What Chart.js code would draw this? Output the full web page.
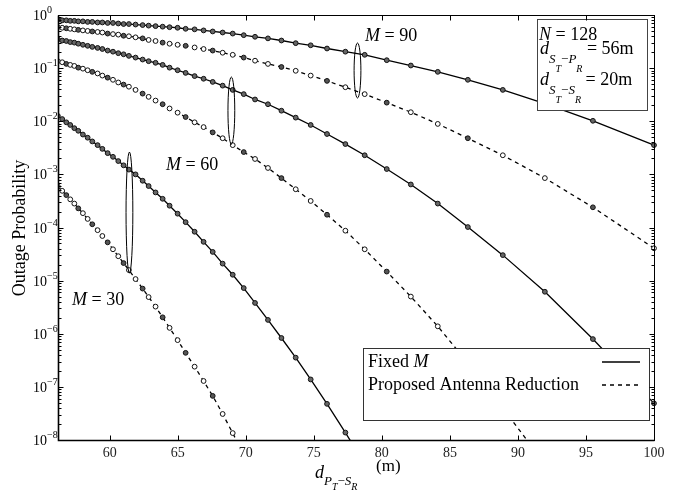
<!DOCTYPE html>
<html>
<head>
<meta charset="utf-8">
<script src="https://cdn.jsdelivr.net/npm/chart.js@4.4.1/dist/chart.umd.min.js"></script>
<style>
  html, body { margin: 0; padding: 0; background: #fff; }
  #wrap { width: 674px; height: 491px; }
</style>
</head>
<body>
<div id="wrap"><canvas id="outageChart" width="674" height="491"></canvas></div>
<script>
// distance d_{PT-SR} (m) where the markers sit
const distance = [56.19, 56.51, 56.81, 57.10, 57.40, 57.69, 58.03, 58.38, 58.72, 59.11,
  59.46, 59.85, 60.24, 60.63, 61.02, 61.41, 61.90, 62.42, 62.86, 63.37,
  63.89, 64.40, 64.99, 65.58, 66.24, 66.90, 67.57, 68.30, 69.04, 69.85,
  70.68, 71.63, 72.62, 73.67, 74.77, 75.97, 77.32, 78.74, 80.36, 82.13,
  84.11, 86.32, 88.89, 91.98, 95.51, 100];

const fixedM90 = [0.813, 0.794, 0.794, 0.776, 0.776, 0.759, 0.759, 0.741, 0.741, 0.724,
  0.724, 0.708, 0.708, 0.692, 0.676, 0.676, 0.661, 0.646, 0.631, 0.617,
  0.603, 0.589, 0.575, 0.550, 0.537, 0.513, 0.490, 0.468, 0.447, 0.417,
  0.389, 0.363, 0.331, 0.295, 0.269, 0.234, 0.204, 0.178, 0.141, 0.112,
  0.0851, 0.0603, 0.0389, 0.0214, 0.0102, 0.00355];
const proposedM90 = [0.589, 0.575, 0.562, 0.550, 0.537, 0.525, 0.513, 0.501, 0.490, 0.479,
  0.468, 0.447, 0.437, 0.427, 0.407, 0.398, 0.380, 0.363, 0.339, 0.324,
  0.302, 0.288, 0.275, 0.263, 0.245, 0.229, 0.214, 0.195, 0.178, 0.158,
  0.138, 0.120, 0.105, 0.0891, 0.0724, 0.0575, 0.0437, 0.0324, 0.0224, 0.0148,
  0.00891, 0.00479, 0.00229, 0.000851, 0.000240, 0.0000407];
const fixedM60 = [0.347, 0.331, 0.324, 0.309, 0.302, 0.288, 0.275, 0.263, 0.251, 0.240,
  0.229, 0.214, 0.204, 0.191, 0.182, 0.170, 0.158, 0.145, 0.135, 0.126,
  0.115, 0.102, 0.0912, 0.0813, 0.0708, 0.0631, 0.0550, 0.0468, 0.0389, 0.0324,
  0.0257, 0.0209, 0.0158, 0.0117, 0.00851, 0.00575, 0.00372, 0.00229, 0.00126, 0.000646,
  0.000282, 0.000102, 3.02e-5, 6.17e-6, 7.94e-7, 4.90e-8];
const proposedM60 = [0.135, 0.129, 0.120, 0.115, 0.110, 0.102, 0.0977, 0.0912, 0.0851, 0.0794,
  0.0724, 0.0661, 0.0603, 0.0537, 0.0490, 0.0447, 0.0389, 0.0331, 0.0288, 0.0245,
  0.0209, 0.0174, 0.0145, 0.0120, 0.00955, 0.00776, 0.00617, 0.00479, 0.00355, 0.00263,
  0.00195, 0.00132, 0.000851, 0.000525, 0.000316, 0.000174, 8.71e-5, 3.89e-5, 1.48e-5, 5.01e-6,
  1.38e-6, 2.82e-7, 3.98e-8, 3.55e-9];
const fixedM30 = [0.0126, 0.0110, 0.00955, 0.00851, 0.00741, 0.00661, 0.00562, 0.00490, 0.00417, 0.00355,
  0.00302, 0.00251, 0.00214, 0.00178, 0.00148, 0.00123, 0.00100, 0.000759, 0.000603, 0.000457,
  0.000347, 0.000257, 0.000182, 0.000126, 8.32e-5, 5.37e-5, 3.47e-5, 2.09e-5, 1.29e-5, 7.24e-6,
  3.80e-6, 1.82e-6, 8.32e-7, 3.55e-7, 1.38e-7, 4.79e-8, 1.38e-8, 3.55e-9];
const proposedM30 = [5.89e-4, 4.90e-4, 4.07e-4, 3.39e-4, 2.82e-4, 2.29e-4, 1.86e-4, 1.45e-4, 1.15e-4, 8.91e-5,
  6.92e-5, 5.25e-5, 3.89e-5, 2.88e-5, 2.14e-5, 1.58e-5, 1.07e-5, 7.08e-6, 4.90e-6, 3.24e-6,
  2.04e-6, 1.29e-6, 7.59e-7, 4.37e-7, 2.40e-7, 1.29e-7, 6.76e-8, 3.09e-8, 1.35e-8, 5.37e-9];

const xTicks = [60, 65, 70, 75, 80, 85, 90, 95, 100];
const yTicks = [1e-8, 1e-7, 1e-6, 1e-5, 1e-4, 1e-3, 1e-2, 1e-1, 1];
const yMinor = [2, 3, 4, 5, 6, 7, 8, 9];

// curve group labels and their ellipses, in data units
const groupLabels = [
  { text: '90', x: 78.76, y: 0.324 },
  { text: '60', x: 64.14, y: 1.2e-3 },
  { text: '30', x: 57.23, y: 3.5e-6 }
];
const groupEllipses = [
  { x: 78.21, top: 0.297, bottom: 0.0274 },
  { x: 68.94, top: 0.068, bottom: 0.0037 },
  { x: 61.45, top: 0.00263, bottom: 1.38e-5 }
];

const serif = '"Liberation Serif", "Times New Roman", serif';
function font(size, italic) {
  return (italic ? 'italic ' : '') + size + 'px ' + serif;
}
function drawRuns(ctx, x, y, runs) {
  for (const r of runs) {
    ctx.font = font(r.size, r.italic);
    ctx.fillText(r.text, x, y + (r.dy || 0));
    x += ctx.measureText(r.text).width;
  }
  return x;
}
function pairs(values) {
  return values.map((v, i) => ({ x: distance[i], y: v }));
}

function curve(values, dashed) {
  return {
    data: pairs(values),
    borderColor: '#000',
    borderWidth: 1.3,
    borderDash: dashed ? [4, 4] : [],
    pointRadius: 2.4,
    pointBorderWidth: 1,
    pointBorderColor: '#111',
    pointBackgroundColor: dashed
      ? ctx => (ctx.dataIndex % 3 === 2 ? '#555' : '#fff')
      : '#666',
    clip: { left: 0, top: 5, right: 5, bottom: 0 }
  };
}

const decorations = {
  id: 'decorations',
  afterDraw(chart) {
    const { ctx, chartArea: a } = chart;
    const xs = chart.scales.x, ys = chart.scales.y;
    const L = Math.round(a.left) + 0.5, R = Math.round(a.right) + 0.5;
    const T = Math.round(a.top) + 0.5, B = Math.round(a.bottom) + 0.5;
    ctx.save();
    ctx.strokeStyle = '#000';
    ctx.fillStyle = '#000';

    // ellipses around the curve pairs
    ctx.lineWidth = 1;
    groupEllipses.forEach(e => {
      const cx = xs.getPixelForValue(e.x);
      const y1 = ys.getPixelForValue(e.top), y2 = ys.getPixelForValue(e.bottom);
      ctx.beginPath();
      ctx.ellipse(cx, (y1 + y2) / 2, 3.4, (y2 - y1) / 2, 0, 0, Math.PI * 2);
      ctx.stroke();
    });

    // M = .. labels
    ctx.textAlign = 'left';
    ctx.textBaseline = 'alphabetic';
    groupLabels.forEach(g => {
      drawRuns(ctx, xs.getPixelForValue(g.x), ys.getPixelForValue(g.y), [
        { text: 'M', size: 18, italic: true },
        { text: ' = ' + g.text, size: 18 }
      ]);
    });

    // info box
    ctx.fillStyle = '#fff';
    ctx.fillRect(537, 19, 110, 91);
    ctx.strokeStyle = '#444';
    ctx.strokeRect(537.5, 19.5, 110, 91);
    ctx.fillStyle = '#000';
    drawRuns(ctx, 539, 40, [
      { text: 'N', size: 18, italic: true },
      { text: ' = 128', size: 18 }
    ]);
    [['P', '56m', 54], ['S', '20m', 85]].forEach(([to, val, base]) => {
      drawRuns(ctx, 540, base, [
        { text: 'd', size: 18, italic: true },
        { text: 'S', size: 13, italic: true, dy: 9 },
        { text: 'T', size: 10, italic: true, dy: 18 },
        { text: '\u2212', size: 13, dy: 9 },
        { text: to, size: 13, italic: true, dy: 9 },
        { text: 'R', size: 10, italic: true, dy: 18 },
        { text: ' = ' + val, size: 18 }
      ]);
    });

    // legend box
    ctx.fillStyle = '#fff';
    ctx.fillRect(363, 348, 286, 72);
    ctx.strokeStyle = '#333';
    ctx.strokeRect(363.5, 348.5, 286, 72);
    ctx.fillStyle = '#000';
    drawRuns(ctx, 368, 367, [
      { text: 'Fixed ', size: 18 },
      { text: 'M', size: 18, italic: true }
    ]);
    drawRuns(ctx, 368, 390, [{ text: 'Proposed Antenna Reduction', size: 18 }]);
    ctx.strokeStyle = '#000';
    ctx.lineWidth = 1.3;
    ctx.beginPath(); ctx.moveTo(602, 362); ctx.lineTo(640, 362); ctx.stroke();
    ctx.setLineDash([4, 4]);
    ctx.beginPath(); ctx.moveTo(602, 385); ctx.lineTo(640, 385); ctx.stroke();
    ctx.setLineDash([]);

    // frame
    ctx.lineWidth = 1;
    ctx.strokeRect(L, T, R - L, B - T);
    ctx.lineWidth = 1.6;
    ctx.beginPath(); ctx.moveTo(L, T); ctx.lineTo(L, B); ctx.lineTo(R, B); ctx.stroke();

    // ticks pointing inward
    ctx.lineWidth = 1;
    ctx.beginPath();
    xTicks.forEach(v => {
      const px = Math.round(xs.getPixelForValue(v)) + 0.5;
      ctx.moveTo(px, B); ctx.lineTo(px, B - 5);
      ctx.moveTo(px, T); ctx.lineTo(px, T + 5);
    });
    yTicks.forEach(v => {
      const py = Math.round(ys.getPixelForValue(v)) + 0.5;
      ctx.moveTo(L, py); ctx.lineTo(L + 5, py);
      ctx.moveTo(R, py); ctx.lineTo(R - 5, py);
      yMinor.forEach(m => {
        if (v * m >= 1) return;
        const pm = Math.round(ys.getPixelForValue(v * m)) + 0.5;
        ctx.moveTo(L, pm); ctx.lineTo(L + 3, pm);
        ctx.moveTo(R, pm); ctx.lineTo(R - 3, pm);
      });
    });
    ctx.stroke();

    // y tick labels 10^k
    yTicks.forEach(v => {
      const py = ys.getPixelForValue(v);
      const k = Math.round(Math.log10(v));
      drawRuns(ctx, 33, py + 5, [
        { text: '10', size: 14 },
        { text: k === 0 ? '0' : '\u2212' + Math.abs(k), size: 10, dy: -7 }
      ]);
    });

    // y title
    ctx.save();
    ctx.translate(25, 228);
    ctx.rotate(-Math.PI / 2);
    ctx.textAlign = 'center';
    ctx.font = font(18);
    ctx.fillText('Outage Probability', 0, 0);
    ctx.restore();

    // x title
    drawRuns(ctx, 315, 478, [
      { text: 'd', size: 18, italic: true },
      { text: 'P', size: 13, italic: true, dy: 7 },
      { text: 'T', size: 10, italic: true, dy: 12 },
      { text: '\u2212', size: 13, dy: 7 },
      { text: 'S', size: 13, italic: true, dy: 7 },
      { text: 'R', size: 10, italic: true, dy: 12 }
    ]);
    drawRuns(ctx, 376, 471, [{ text: '(m)', size: 17 }]);
    ctx.restore();
  }
};

new Chart(document.getElementById('outageChart'), {
  type: 'line',
  data: {
    datasets: [
      curve(fixedM90, false),
      curve(proposedM90, true),
      curve(fixedM60, false),
      curve(proposedM60, true),
      curve(fixedM30, false),
      curve(proposedM30, true)
    ]
  },
  options: {
    responsive: false,
    animation: false,
    layout: { padding: { top: 15, right: 20, left: 0, bottom: 0 } },
    plugins: { legend: { display: false }, tooltip: { enabled: false } },
    elements: { line: { tension: 0 } },
    scales: {
      x: {
        type: 'linear',
        min: 56.2,
        max: 100,
        afterBuildTicks: s => { s.ticks = xTicks.map(v => ({ value: v })); },
        afterFit: s => { s.height = 51; },
        grid: { display: false, drawTicks: false },
        border: { display: false },
        ticks: { color: '#222', padding: 5, maxRotation: 0, font: { family: serif, size: 14 } }
      },
      y: {
        type: 'logarithmic',
        min: 1e-8,
        max: 1,
        afterBuildTicks: s => { s.ticks = yTicks.map(v => ({ value: v })); },
        afterFit: s => { s.width = 58; },
        grid: { display: false },
        border: { display: false },
        ticks: { display: false }
      }
    }
  },
  plugins: [decorations]
});
</script>
</body>
</html>
